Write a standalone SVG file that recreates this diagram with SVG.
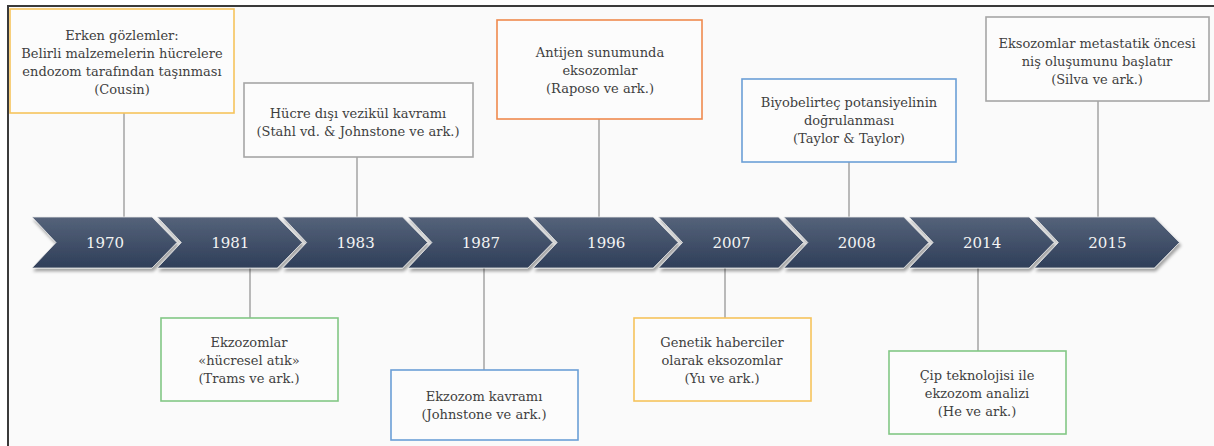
<svg xmlns="http://www.w3.org/2000/svg" width="1214" height="446" viewBox="0 0 1214 446">
<defs>
<linearGradient id="chev" x1="0" y1="0" x2="0" y2="1">
<stop offset="0" stop-color="#55637a"/>
<stop offset="1" stop-color="#2f3e59"/>
</linearGradient>
<filter id="sh" x="-10%" y="-20%" width="130%" height="150%">
<feDropShadow dx="1.5" dy="3" stdDeviation="1.8" flood-color="#000" flood-opacity="0.35"/>
</filter>
<polygon id="chv" points="0,0 120,0 145,25.5 120,51 0,51 24,25.5"/>
</defs>
<style>
.box{fill:#fcfcfc;stroke-width:1.6}
.t{font-family:"DejaVu Serif","Liberation Serif",serif;font-size:13px;fill:#3f3f3f;text-anchor:middle}
.yr{font-family:"DejaVu Serif","Liberation Serif",serif;font-size:15px;fill:#f4f4f4;text-anchor:middle}
.ln{stroke:#a3a3a3;stroke-width:1.5;fill:none}
.chev{fill:url(#chev);stroke:#e8e8e8;stroke-width:0.8;filter:url(#sh)}
</style>
<rect x="0" y="0" width="1214" height="446" fill="#ffffff"/>
<rect x="8" y="6" width="1206" height="440" fill="#fafafa"/>
<path d="M8,446 V6 H1214" fill="none" stroke="#3a3a3a" stroke-width="2"/>

<g id="connectors">
<line class="ln" x1="124" y1="113" x2="124" y2="217"/>
<line class="ln" x1="250" y1="268" x2="250" y2="318"/>
<line class="ln" x1="357" y1="157" x2="357" y2="217"/>
<line class="ln" x1="484" y1="268" x2="484" y2="370"/>
<line class="ln" x1="599" y1="119" x2="599" y2="217"/>
<line class="ln" x1="725" y1="268" x2="725" y2="318"/>
<line class="ln" x1="849" y1="162" x2="849" y2="217"/>
<line class="ln" x1="978" y1="268" x2="978" y2="351"/>
<line class="ln" x1="1098" y1="101" x2="1098" y2="217"/>
</g>

<g id="timeline">
<g id="y1970"><use href="#chv" class="chev" x="32" y="217"/><text class="yr" x="105" y="248">1970</text></g>
<g id="y1981"><use href="#chv" class="chev" x="157.3" y="217"/><text class="yr" x="230.3" y="248">1981</text></g>
<g id="y1983"><use href="#chv" class="chev" x="282.6" y="217"/><text class="yr" x="355.6" y="248">1983</text></g>
<g id="y1987"><use href="#chv" class="chev" x="407.9" y="217"/><text class="yr" x="480.9" y="248">1987</text></g>
<g id="y1996"><use href="#chv" class="chev" x="533.2" y="217"/><text class="yr" x="606.2" y="248">1996</text></g>
<g id="y2007"><use href="#chv" class="chev" x="658.5" y="217"/><text class="yr" x="731.5" y="248">2007</text></g>
<g id="y2008"><use href="#chv" class="chev" x="783.8" y="217"/><text class="yr" x="856.8" y="248">2008</text></g>
<g id="y2014"><use href="#chv" class="chev" x="909.1" y="217"/><text class="yr" x="982.1" y="248">2014</text></g>
<g id="y2015"><use href="#chv" class="chev" x="1034.4" y="217"/><text class="yr" x="1107.4" y="248">2015</text></g>
</g>

<g id="n-cousin">
<rect class="box" x="10" y="9" width="224" height="104" stroke="#f6c35c"/>
<text class="t" x="122" y="40">Erken gözlemler:</text>
<text class="t" x="122" y="58">Belirli malzemelerin hücrelere</text>
<text class="t" x="122" y="76">endozom tarafından taşınması</text>
<text class="t" x="122" y="94">(Cousin)</text>
</g>
<g id="n-stahl">
<rect class="box" x="244" y="83" width="229" height="74" stroke="#a6a6a6"/>
<text class="t" x="358" y="118">Hücre dışı vezikül kavramı</text>
<text class="t" x="358" y="136">(Stahl vd. &amp; Johnstone ve ark.)</text>
</g>
<g id="n-raposo">
<rect class="box" x="497" y="20" width="205" height="99" stroke="#ef8a4e"/>
<text class="t" x="600" y="57">Antijen sunumunda</text>
<text class="t" x="600" y="75">eksozomlar</text>
<text class="t" x="600" y="93">(Raposo ve ark.)</text>
</g>
<g id="n-taylor">
<rect class="box" x="742" y="79" width="214" height="83" stroke="#6b9fd6"/>
<text class="t" x="849" y="107">Biyobelirteç potansiyelinin</text>
<text class="t" x="849" y="125">doğrulanması</text>
<text class="t" x="849" y="143">(Taylor &amp; Taylor)</text>
</g>
<g id="n-silva">
<rect class="box" x="986" y="17" width="223" height="84" stroke="#a6a6a6"/>
<text class="t" x="1097" y="48">Eksozomlar metastatik öncesi</text>
<text class="t" x="1097" y="66">niş oluşumunu başlatır</text>
<text class="t" x="1097" y="84">(Silva ve ark.)</text>
</g>
<g id="n-trams">
<rect class="box" x="161" y="318" width="177" height="83" stroke="#82c785"/>
<text class="t" x="249" y="347">Ekzozomlar</text>
<text class="t" x="249" y="365">«hücresel atık»</text>
<text class="t" x="249" y="383">(Trams ve ark.)</text>
</g>
<g id="n-johnstone">
<rect class="box" x="391" y="370" width="187" height="70" stroke="#6b9fd6"/>
<text class="t" x="484" y="401">Ekzozom kavramı</text>
<text class="t" x="484" y="419">(Johnstone ve ark.)</text>
</g>
<g id="n-yu">
<rect class="box" x="634" y="318" width="177" height="83" stroke="#f6c35c"/>
<text class="t" x="722" y="347">Genetik haberciler</text>
<text class="t" x="722" y="365">olarak eksozomlar</text>
<text class="t" x="722" y="383">(Yu ve ark.)</text>
</g>
<g id="n-he">
<rect class="box" x="889" y="351" width="177" height="83" stroke="#82c785"/>
<text class="t" x="977" y="380">Çip teknolojisi ile</text>
<text class="t" x="977" y="398">ekzozom analizi</text>
<text class="t" x="977" y="416">(He ve ark.)</text>
</g>
</svg>
